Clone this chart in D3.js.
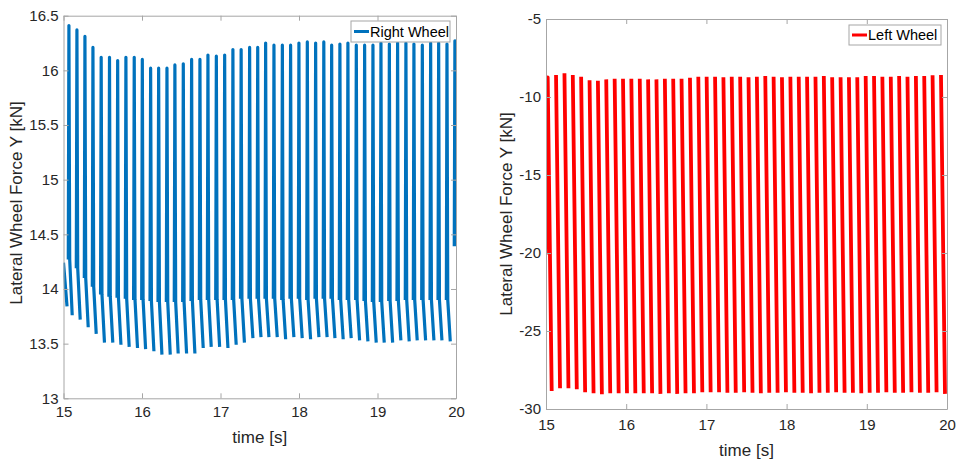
<!DOCTYPE html>
<html>
<head>
<meta charset="utf-8">
<script src="https://cdn.jsdelivr.net/npm/d3@7"></script>
<style>
  html, body { margin: 0; padding: 0; background: #ffffff; }
  svg { display: block; font-family: "Liberation Sans", Arial, Helvetica, sans-serif; }
</style>
</head>
<body>
<svg id="chart" width="959" height="462"></svg>
<script>
// ---------------- DATA ----------------
const xTicks = [15, 16, 17, 18, 19, 20];
const rightWheelYTicks = [13, 13.5, 14, 14.5, 15, 15.5, 16, 16.5];
const leftWheelYTicks = [-30, -25, -20, -15, -10, -5];

// Right wheel (blue): one oscillation cycle per entry
const rightLeadTimes = [15.0, 15.045];
const rightLeadValues = [14.24, 13.84];
const rightTimes = [15.061, 15.163, 15.265, 15.367, 15.472, 15.578, 15.682, 15.787, 15.893, 15.996,
  16.102, 16.204, 16.310, 16.411, 16.518, 16.624, 16.730, 16.832, 16.939, 17.045,
  17.150, 17.255, 17.363, 17.466, 17.567, 17.673, 17.780, 17.885, 17.991, 18.098,
  18.204, 18.308, 18.408, 18.513, 18.615, 18.722, 18.828, 18.934, 19.036, 19.143,
  19.248, 19.354, 19.456, 19.563, 19.669, 19.771, 19.877, 19.978];
const rightPeaks = [16.41, 16.37, 16.31, 16.21, 16.12, 16.12, 16.09, 16.12, 16.12, 16.10,
  16.02, 16.02, 16.02, 16.05, 16.06, 16.10, 16.10, 16.14, 16.13, 16.14,
  16.19, 16.19, 16.21, 16.21, 16.25, 16.23, 16.23, 16.23, 16.25, 16.26,
  16.25, 16.26, 16.23, 16.24, 16.25, 16.23, 16.23, 16.23, 16.25, 16.24,
  16.25, 16.25, 16.24, 16.23, 16.25, 16.25, 16.24, 16.27];
const rightKnees = [14.27, 14.19, 14.10, 14.02, 13.95, 13.93, 13.92, 13.91, 13.90, 13.90,
  13.89, 13.88, 13.88, 13.88, 13.88, 13.89, 13.90, 13.90, 13.90, 13.90,
  13.90, 13.91, 13.91, 13.91, 13.91, 13.91, 13.90, 13.91, 13.91, 13.90,
  13.91, 13.91, 13.91, 13.90, 13.90, 13.90, 13.89, 13.88, 13.88, 13.89,
  13.89, 13.90, 13.90, 13.90, 13.90, 13.90, 13.90, 14.39];
const rightTroughs = [13.76, 13.72, 13.65, 13.59, 13.51, 13.51, 13.49, 13.47, 13.46, 13.45,
  13.43, 13.40, 13.40, 13.41, 13.41, 13.41, 13.46, 13.47, 13.47, 13.46,
  13.49, 13.51, 13.55, 13.56, 13.56, 13.56, 13.54, 13.56, 13.55, 13.54,
  13.56, 13.56, 13.55, 13.54, 13.55, 13.53, 13.52, 13.51, 13.51, 13.51,
  13.53, 13.52, 13.53, 13.53, 13.53, 13.53, 13.52, null];

// Left wheel (red)
const leftLeadTimes = [15.0];
const leftLeadValues = [-20.1];
const leftTimes = [15.021, 15.125, 15.230, 15.334, 15.438, 15.543, 15.647, 15.751, 15.856, 15.960,
  16.064, 16.169, 16.273, 16.377, 16.482, 16.586, 16.690, 16.795, 16.899, 17.003,
  17.108, 17.212, 17.316, 17.421, 17.525, 17.629, 17.734, 17.838, 17.942, 18.047,
  18.151, 18.255, 18.360, 18.464, 18.568, 18.673, 18.777, 18.881, 18.986, 19.090,
  19.194, 19.299, 19.403, 19.507, 19.612, 19.716, 19.820, 19.925];
const leftPeaks = [-8.74, -8.59, -8.48, -8.59, -8.70, -8.92, -8.96, -8.87, -8.83, -8.83,
  -8.83, -8.83, -8.87, -8.87, -8.83, -8.83, -8.83, -8.76, -8.70, -8.70,
  -8.70, -8.74, -8.70, -8.70, -8.74, -8.70, -8.65, -8.70, -8.74, -8.70,
  -8.70, -8.70, -8.70, -8.65, -8.74, -8.74, -8.74, -8.74, -8.65, -8.65,
  -8.70, -8.70, -8.65, -8.70, -8.65, -8.65, -8.61, -8.59];
const leftTroughs = [-28.85, -28.67, -28.67, -28.74, -28.93, -28.99, -29.06, -28.99, -28.99, -28.99,
  -28.99, -28.99, -28.99, -29.03, -28.99, -29.03, -28.99, -28.99, -28.93, -28.93,
  -28.93, -28.96, -28.96, -28.93, -28.96, -28.99, -28.96, -28.96, -28.93, -28.96,
  -28.96, -28.99, -28.96, -28.96, -28.93, -28.96, -28.96, -28.99, -28.96, -28.96,
  -28.93, -28.96, -28.96, -28.93, -28.96, -28.96, -28.93, -29.03];

// ---------------- DRAW ----------------
const svg = d3.select("#chart");
const AXIS_COLOR = "#a6a6a6";
const TEXT_COLOR = "#262626";

function panel(cfg) {
  const x = d3.scaleLinear().domain([15, 20]).range([cfg.x0, cfg.x1]);
  const y = d3.scaleLinear().domain(cfg.yDomain).range([cfg.y1, cfg.y0]);
  const g = svg.append("g");

  const clipId = "clip" + cfg.id;
  svg.append("defs").append("clipPath").attr("id", clipId)
    .append("rect").attr("x", cfg.x0).attr("y", cfg.y0)
    .attr("width", cfg.x1 - cfg.x0).attr("height", cfg.y1 - cfg.y0);

  const line = d3.line().defined(d => d != null).x(d => x(d[0])).y(d => y(d[1]));
  g.append("path")
    .attr("clip-path", `url(#${clipId})`)
    .attr("d", line(cfg.points))
    .attr("fill", "none")
    .attr("stroke", cfg.color)
    .attr("stroke-width", cfg.lineWidth)
    .attr("stroke-linejoin", "round")
    .attr("stroke-linecap", "butt");

  const styleAxis = sel => {
    sel.selectAll(".domain").attr("stroke", AXIS_COLOR).attr("stroke-width", 1);
    sel.selectAll(".tick line").attr("stroke", AXIS_COLOR);
    sel.selectAll(".tick text").attr("fill", TEXT_COLOR)
      .style("font-size", "15px").style("font-family", "'Liberation Sans', Arial, sans-serif");
  };
  g.append("g").attr("transform", `translate(0,${cfg.y1})`)
    .call(d3.axisBottom(x).tickValues(xTicks).tickFormat(d3.format("d"))
      .tickSize(-5).tickSizeOuter(0).tickPadding(cfg.xPad))
    .call(styleAxis);
  g.append("g").attr("transform", `translate(0,${cfg.y0})`)
    .call(d3.axisTop(x).tickValues(xTicks).tickFormat("").tickSize(-5).tickSizeOuter(0))
    .call(styleAxis);
  g.append("g").attr("transform", `translate(${cfg.x0},0)`)
    .call(d3.axisLeft(y).tickValues(cfg.yTicks).tickFormat(d => String(d))
      .tickSize(-5).tickSizeOuter(0).tickPadding(5))
    .call(styleAxis);
  g.append("g").attr("transform", `translate(${cfg.x1},0)`)
    .call(d3.axisRight(y).tickValues(cfg.yTicks).tickFormat("").tickSize(-5).tickSizeOuter(0))
    .call(styleAxis);
  g.selectAll(".domain").attr("fill", "none");

  g.append("text")
    .attr("x", (cfg.x0 + cfg.x1) / 2).attr("y", cfg.xLabelY)
    .attr("text-anchor", "middle").attr("fill", TEXT_COLOR)
    .style("font-size", "17px").text("time [s]");
  g.append("text")
    .attr("transform", `translate(${cfg.yLabelX},${cfg.yLabelCy}) rotate(-90)`)
    .attr("text-anchor", "middle").attr("fill", TEXT_COLOR)
    .style("font-size", "17px").text("Lateral Wheel Force Y [kN]");

  const L = cfg.legend;
  g.append("rect").attr("x", L.x).attr("y", L.y).attr("width", L.w).attr("height", L.h)
    .attr("fill", "#ffffff").attr("stroke", AXIS_COLOR).attr("stroke-width", 1);
  g.append("line").attr("x1", L.x + 3).attr("x2", L.x + 18)
    .attr("y1", L.y + L.h / 2).attr("y2", L.y + L.h / 2)
    .attr("stroke", cfg.color).attr("stroke-width", 3);
  g.append("text").attr("x", L.x + 19).attr("y", L.y + L.h / 2 + 5)
    .attr("fill", "#000000").style("font-size", "14.5px").text(L.label);
}

const rightPoints = [];
rightLeadTimes.forEach((t, i) => rightPoints.push([t, rightLeadValues[i]]));
rightPoints.push(null);
rightTimes.forEach((t, i) => {
  rightPoints.push([t, rightKnees[i]]);
  rightPoints.push([t + 0.008, rightPeaks[i]]);
  rightPoints.push([t + 0.018, rightKnees[i]]);
  if (rightTroughs[i] != null) rightPoints.push([t + 0.05, rightTroughs[i]]);
  rightPoints.push(null);
});

const leftPoints = [];
leftLeadTimes.forEach((t, i) => leftPoints.push([t, leftLeadValues[i]]));
leftTimes.forEach((t, i) => {
  leftPoints.push([t, leftPeaks[i]]);
  leftPoints.push([t + 0.05, leftTroughs[i]]);
  leftPoints.push(null);
});

panel({
  id: "R", x0: 63.5, x1: 456, y0: 15.7, y1: 398.3,
  yDomain: [13, 16.5], yTicks: rightWheelYTicks,
  color: "#0072BD", lineWidth: 3.2, points: rightPoints,
  xPad: 8, xLabelY: 443, yLabelX: 22, yLabelCy: 203,
  legend: { x: 351, y: 21, w: 99, h: 21, label: "Right Wheel" }
});
panel({
  id: "L", x0: 546, x1: 947, y0: 19, y1: 409,
  yDomain: [-30, -5], yTicks: leftWheelYTicks,
  color: "#FF0000", lineWidth: 3.8, points: leftPoints,
  xPad: 10, xLabelY: 456, yLabelX: 512, yLabelCy: 214,
  legend: { x: 849, y: 25, w: 92, h: 20, label: "Left Wheel" }
});
</script>
</body>
</html>
